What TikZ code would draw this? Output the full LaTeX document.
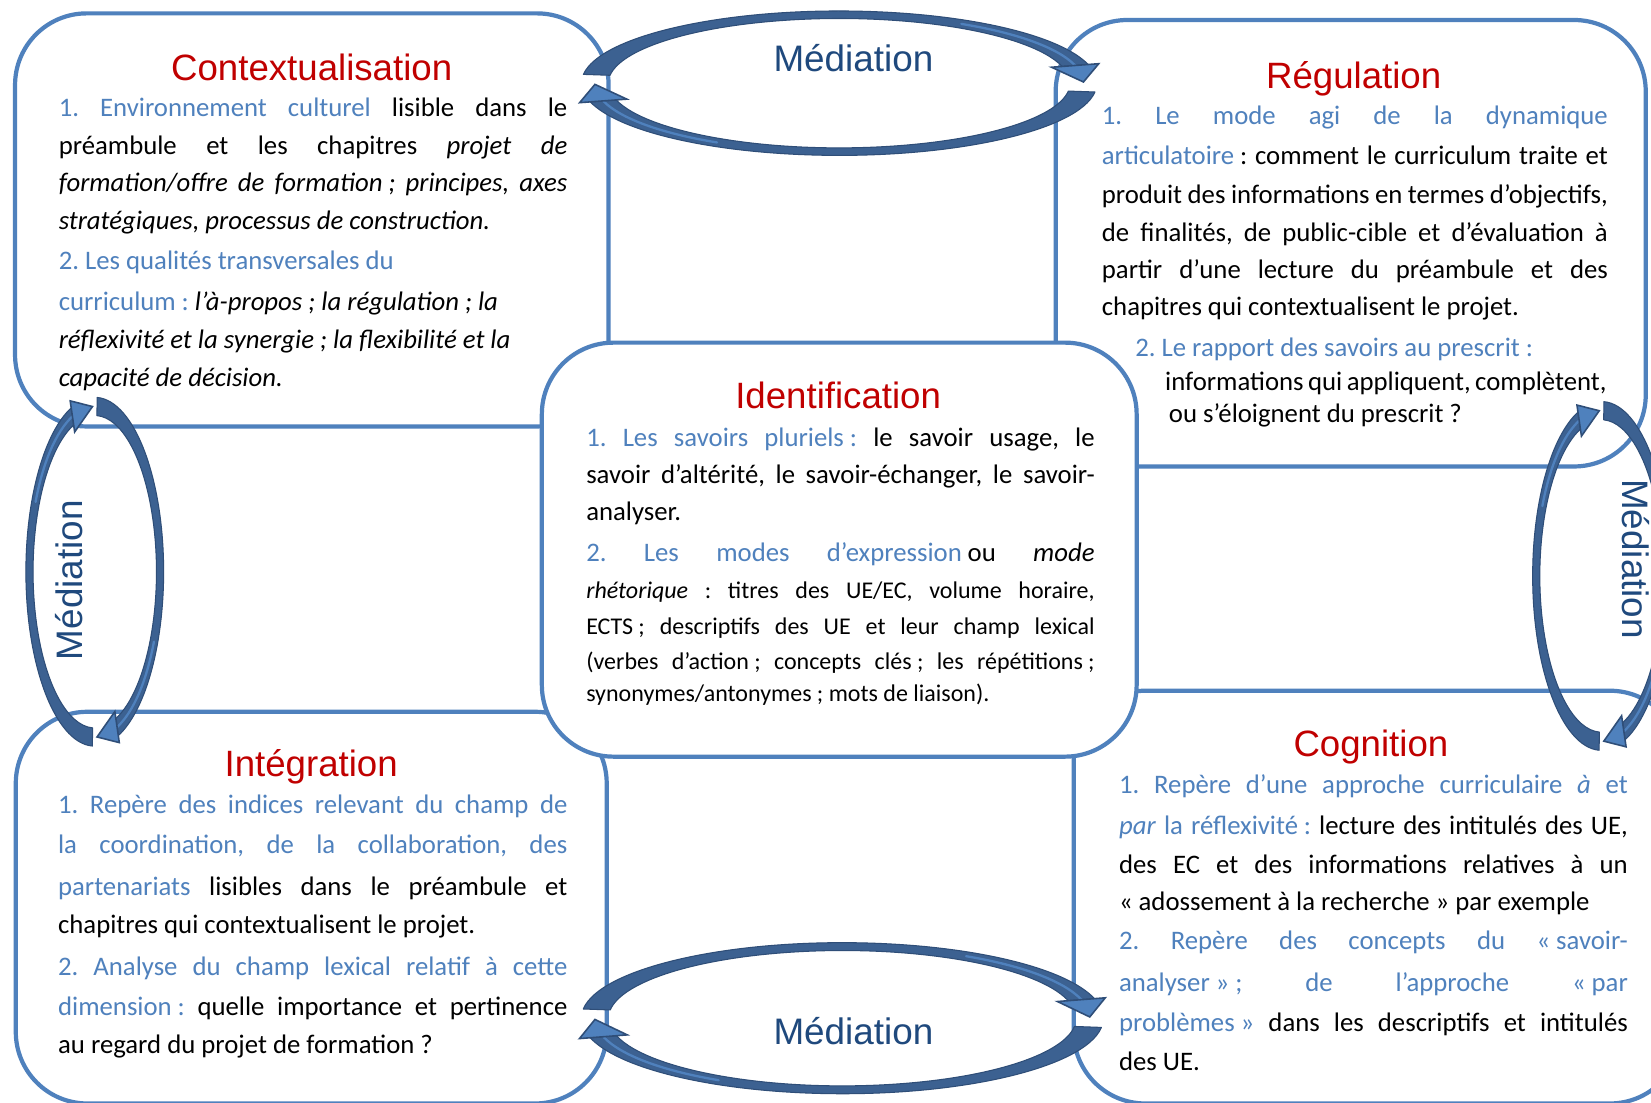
\documentclass[tikz,border=0pt]{standalone}
\usepackage{fontspec}
\setmainfont{Carlito}
\newfontfamily\arialfont{Liberation Sans}
\definecolor{boxblue}{RGB}{79,129,189}
\definecolor{txtblue}{RGB}{79,129,189}
\definecolor{titlered}{RGB}{192,0,0}
\definecolor{medblue}{RGB}{31,73,125}
\definecolor{banddark}{RGB}{60,97,145}
\definecolor{bandline}{RGB}{47,78,120}
\definecolor{headfill}{RGB}{79,129,189}
\newcommand\bl[1]{\textcolor{txtblue}{#1}}
\newcommand\nb{\hspace{0.22em}}
\newcommand\JL[2]{\makebox[#1pt][s]{#2}}
\tikzset{
 panel/.style={draw=boxblue, line width=4pt, fill=white, rounded corners=68pt, inner sep=0pt},
 ttl/.style={anchor=base, inner sep=0pt, font=\arialfont\fontsize{34.8}{40}\selectfont, text=titlered},
 med/.style={anchor=base, inner sep=0pt, font=\arialfont\fontsize{35}{40}\selectfont, text=medblue},
 ln/.style={anchor=base west, inner sep=0pt, font=\fontsize{25.4}{30}\selectfont\frenchspacing},
 lns/.style={anchor=base west, inner sep=0pt, font=\fontsize{22.8}{27}\selectfont\frenchspacing},
 band/.style={fill=banddark, draw=bandline, line width=1pt, line join=round},
 glint/.style={draw=headfill, line width=2.2pt, line cap=round},
 head/.style={fill=headfill, draw=bandline, line width=1.5pt, line join=miter},
}
% #1 cx, #2 cy, #3 x radius, #4 y radius, #5 angle offset, #6 start of lower band, #7 head base, #8 tip
\newcommand\mediationarrows[8]{%
 \begin{scope}[shift={(#1,#2)}, xscale=#3, yscale=#4]
  \pgfmathsetmacro\sA{180+#6+#5}\pgfmathsetmacro\eA{#7+#5}\pgfmathsetmacro\tA{#8+#5}
  \pgfmathsetmacro\gA{#7+#5-45}
  \pgfmathsetmacro\sB{#6+#5}\pgfmathsetmacro\eB{#7-180+#5}\pgfmathsetmacro\tB{#8-180+#5}
  \pgfmathsetmacro\gB{#7-180+#5-45}
  \path[band] (\sA:1.055) arc[start angle=\sA, end angle=\eA, radius=1.055] -- (\eA:0.945) arc[start angle=\eA, end angle=\sA, radius=0.945] -- cycle;
  \path[glint] (\gA:1) arc[start angle=\gA, end angle=\eA, radius=1];
  \path[head] (\eA:1.1) -- (\tA:1) -- (\eA:0.9) -- cycle;
  \path[band] (\sB:1.055) arc[start angle=\sB, end angle=\eB, radius=1.055] -- (\eB:0.945) arc[start angle=\eB, end angle=\sB, radius=0.945] -- cycle;
  \path[glint] (\gB:1) arc[start angle=\gB, end angle=\eB, radius=1];
  \path[head] (\eB:1.1) -- (\tB:1) -- (\eB:0.9) -- cycle;
 \end{scope}}
\begin{document}
\begin{tikzpicture}[x=1pt,y=-1pt]
\useasboundingbox (0,0) rectangle (1568,1047);
\fill[white] (0,0) rectangle (1568,1047);
\clip (0,0) rectangle (1568,1047);
% panels
\node[panel, minimum width=563.7pt, minimum height=392.3pt] (ctx) at (296.15,208.85) {};
\node[panel, minimum width=560.4pt, minimum height=424pt] (reg) at (1282.8,231) {};
\node[panel, minimum width=561.2pt, minimum height=372pt] (integ) at (295.6,862) {};
\node[panel, minimum width=577.3pt, minimum height=392pt] (cog) at (1308.35,852) {};
\node[panel, minimum width=564.9pt, minimum height=393.2pt] (ident) at (797.05,522) {};
% mediation arrows
\mediationarrows{797}{79}{232}{65}{0}{7}{345}{359}
\mediationarrows{800}{967}{235}{68}{0}{7}{345}{359}
\mediationarrows{90}{543}{62}{157}{-90}{2}{340}{358}
\mediationarrows{1521}{547}{62}{157}{-90}{2}{340}{358}
\node[med] (m1) at (810.5,68) {Médiation};
\node[med] (m2) at (810.5,992) {Médiation};
\node[med, rotate=90] (m3) at (78,551) {Médiation};
\node[med, rotate=-90] (m4) at (1541,531) {Médiation};
% titles
\node[ttl] (t1) at (296,76) {Contextualisation};
\node[ttl] (t2) at (1285.6,84) {Régulation};
\node[ttl] (t3) at (796,387.8) {Identification};
\node[ttl] (t4) at (295.5,737.6) {Intégration};
\node[ttl] (t5) at (1302,718.6) {Cognition};
% Contextualisation
\node[ln] (c1) at (55.6,110.8) {\JL{483}{\bl{1. Environnement culturel} lisible dans le}};
\node[ln] (c2) at (55.6,146.3) {\JL{483}{préambule et les chapitres \textit{projet de}}};
\node[ln] (c3) at (55.6,182) {\JL{483}{\textit{formation/offre de formation\nb; principes, axes}}};
\node[ln] (c4) at (55.6,217.8) {\textit{stratégiques, processus de construction.}};
\node[ln] (c5) at (55.6,256.4) {\bl{2. Les qualités transversales du}};
\node[ln] (c6) at (55.6,295) {\bl{curriculum\nb:} \textit{l’à-propos\nb; la régulation\nb; la}};
\node[ln] (c7) at (55.6,330.8) {\textit{réflexivité et la synergie\nb; la flexibilité et la}};
\node[ln] (c8) at (55.6,367.2) {\textit{capacité de décision.}};
% Regulation
\node[ln] (r1) at (1046.3,118.7) {\JL{480.5}{\bl{1. Le mode agi de la dynamique}}};
\node[ln] (r2) at (1046.3,156.7) {\JL{480.5}{\bl{articulatoire}\nb: comment le curriculum traite et}};
\node[ln] (r3) at (1046.3,193.1) {\JL{480.5}{produit des informations en termes d’objectifs,}};
\node[ln] (r4) at (1046.3,229.5) {\JL{480.5}{de finalités, de public-cible et d’évaluation à}};
\node[ln] (r5) at (1046.3,264.3) {\JL{480.5}{partir d’une lecture du préambule et des}};
\node[ln] (r6) at (1046.3,300.1) {chapitres qui contextualisent le projet.};
\node[ln] (r7) at (1078,338.1) {\bl{2. Le rapport des savoirs au prescrit\nb:}};
\node[ln] (r8) at (1106.4,370.4) {\JL{419.3}{informations qui appliquent, complètent,}};
\node[ln] (r9) at (1110,401.4) {ou s’éloignent du prescrit\nb?};
% Identification
\node[ln] (i1) at (556.6,423.6) {\JL{482.8}{\bl{1. Les savoirs pluriels\nb:} le savoir usage, le}};
\node[ln] (i2) at (556.6,459) {\JL{482.8}{savoir d’altérité, le savoir-échanger, le savoir-}};
\node[ln] (i3) at (556.6,494.5) {analyser.};
\node[ln] (i4) at (556.6,533.4) {\JL{482.8}{\bl{2. Les modes d’expression}\nb ou \textit{mode}}};
\node[lns] (i5) at (556.6,568.2) {\JL{482.8}{\textit{rhétorique} : titres des UE/EC, volume horaire,}};
\node[lns] (i6) at (556.6,603) {\JL{482.8}{ECTS\nb; descriptifs des UE et leur champ lexical}};
\node[lns] (i7) at (556.6,636.3) {\JL{482.8}{(verbes d’action\nb; concepts clés\nb; les répétitions\nb;}};
\node[lns] (i8) at (556.6,666.4) {synonymes/antonymes\nb; mots de liaison).};
% Integration
\node[ln] (g1) at (55,772.4) {\JL{483.7}{\bl{1. Repère des indices relevant du champ de}}};
\node[ln] (g2) at (55,811) {\JL{483.7}{\bl{la coordination, de la collaboration, des}}};
\node[ln] (g3) at (55,850) {\JL{483.7}{\bl{partenariats} lisibles dans le préambule et}};
\node[ln] (g4) at (55,886.4) {chapitres qui contextualisent le projet.};
\node[ln] (g5) at (55,926) {\JL{483.7}{\bl{2. Analyse du champ lexical relatif à cette}}};
\node[ln] (g6) at (55,964) {\JL{483.7}{\bl{dimension\nb:} quelle importance et pertinence}};
\node[ln] (g7) at (55,1000.3) {au regard du projet de formation\nb?};
% Cognition
\node[ln] (k1) at (1062.6,753.5) {\JL{483.2}{\bl{1. Repère d’une approche curriculaire \textit{à} et}}};
\node[ln] (k2) at (1062.6,793) {\JL{483.2}{\bl{\textit{par} la réflexivité\nb:} lecture des intitulés des UE,}};
\node[ln] (k3) at (1062.6,829.4) {\JL{483.2}{des EC et des informations relatives à un}};
\node[ln] (k4) at (1062.6,864.3) {«\nb adossement à la recherche\nb» par exemple};
\node[ln] (k5) at (1062.6,902.2) {\JL{483.2}{\bl{2. Repère des concepts du «\nb savoir-}}};
\node[ln] (k6) at (1062.6,941.8) {\JL{483.2}{\bl{analyser\nb»\nb; de l’approche «\nb par}}};
\node[ln] (k7) at (1062.6,979.8) {\JL{483.2}{\bl{problèmes\nb»} dans les descriptifs et intitulés}};
\node[ln] (k8) at (1062.6,1016.2) {des UE.};
\end{tikzpicture}
\end{document}
